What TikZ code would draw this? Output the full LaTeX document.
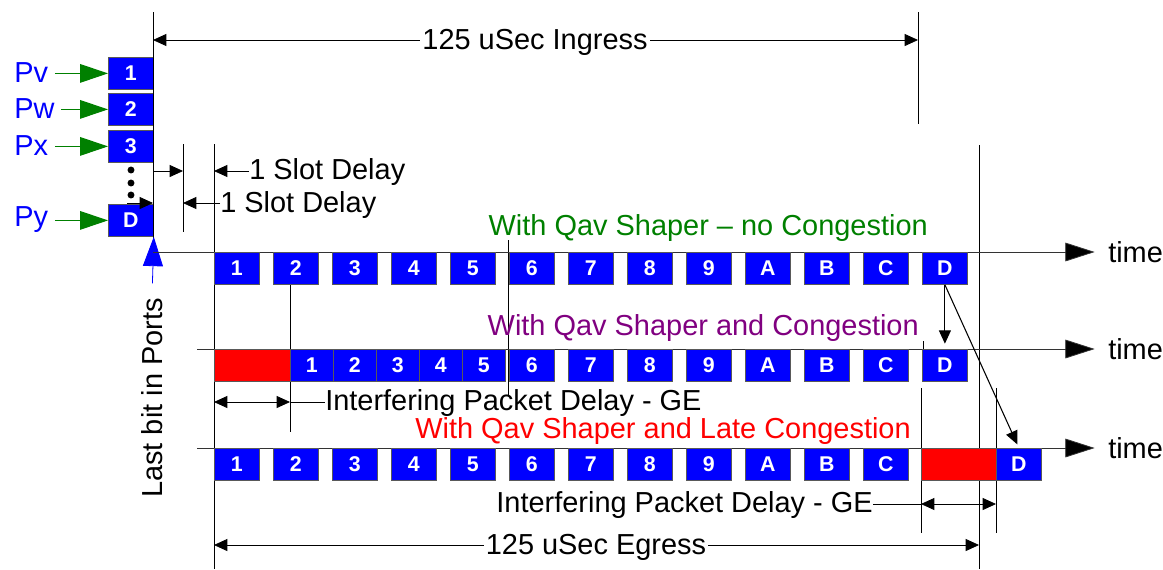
\documentclass[tikz,border=0pt]{standalone}
\usepackage{fontspec}
\setmainfont{Liberation Sans}
\usetikzlibrary{arrows.meta,positioning}
\definecolor{qgreen}{RGB}{0,128,0}
\definecolor{qpurple}{RGB}{128,0,128}
\tikzset{
  slot/.style={draw=black!65, line width=0.6pt, fill=blue, text=white,
    font=\fontsize{16}{16}\selectfont\bfseries,
    minimum width=33.75pt, minimum height=24pt, inner sep=0pt, anchor=north west},
  jam/.style={draw=black!65, line width=0.6pt, fill=red, minimum height=24pt,
    inner sep=0pt, anchor=north west},
  lbl/.style={font=\fontsize{21.7}{22}\selectfont, inner sep=0pt},
  guide/.style={draw=black, line width=0.6pt},
  dim/.style={guide, -{Triangle[length=10pt,width=9pt]}},
  dimboth/.style={guide, {Triangle[length=10pt,width=9pt]}-{Triangle[length=10pt,width=9pt]}},
  axis/.style={draw=black!80, line width=0.6pt, -{Triangle[length=22pt,width=14pt,fill=black]}},
  feed/.style={draw=qgreen, line width=0.8pt, -{Triangle[length=21pt,width=14pt]}},
}
\begin{document}
\begin{tikzpicture}[x=0.75pt,y=-0.75pt]
    \useasboundingbox (0,0) rectangle (1163,569);

    % input ports
    \foreach \lbl/\y/\p in {1/57/v, 2/93/w, 3/130/x, D/204/y} {
        \node[slot] (in\lbl) at (108,\y) {\lbl};
        \node[lbl, text=blue, anchor=west] (p\p) at (14,\y+16) {P\p};
        \draw[feed, shorten <=5pt] (p\p.east |- in\lbl) -- (in\lbl.west);
    }
    \foreach \y in {170,183,195}
        \fill (131,\y) circle (2.6pt);

    % guide lines
    \draw[guide] (153,12) -- (153,252);
    \draw[guide] (918,12) -- (918,124);
    \draw[guide] (183,144) -- (183,232);
    \draw[guide] (214,144) -- (214,569);
    \draw[guide] (979,145) -- (979,569);
    \draw[guide] (290,285) -- (290,432);
    \draw[guide] (508,240) -- (508,395);
    \draw[guide] (923,341) -- (923,382);
    \draw[guide] (921,388) -- (921,533);
    \draw[guide] (996,388) -- (996,533);

    % ingress
    \draw[dimboth] (153,40) -- (918,40);
    \node[lbl, fill=white, inner xsep=1.5pt, anchor=base] (ingress) at (535,49) {125 uSec Ingress};

    % slot delays
    \node[lbl, anchor=base west] (slotA) at (249,179) {1 Slot Delay};
    \node[lbl, anchor=base west] (slotB) at (220,212) {1 Slot Delay};
    \coordinate (sa) at (214,171);
    \coordinate (sb) at (183,203);
    \draw[dim] (153,171) -- (183,171);
    \draw[dim] (slotA.west |- sa) -- (sa);
    \draw[dim] (127,203) -- (153,203);
    \draw[dim] (slotB.west |- sb) -- (sb);

    % last bit in ports
    \node[lbl, rotate=90] (lastbit) at (152,398) {Last bit in Ports};
    \draw[blue, line width=0.6pt, -{Triangle[length=22pt,width=15pt]}, shorten <=11pt]
        (lastbit.east) -- (inD.south east);

    % row 1: no congestion
    \node[lbl, anchor=west] (time1) at (1108,252) {time};
    \coordinate (start1) at (153,252);
    \draw[axis, shorten >=10pt] (start1) -- (time1.west);
    \foreach \lbl [count=\i] in {1,2,3,4,5,6,7,8,9,A,B,C,D}
        \node[slot] (a\i) at ({214+59*(\i-1)},252) {\lbl};
    \node[lbl, text=qgreen, anchor=base east] (label1) at (928,235) {With Qav Shaper -- no Congestion};

    % row 2: congestion
    \node[lbl, anchor=west] (time2) at (1108,349) {time};
    \coordinate (start2) at (197,349);
    \draw[axis, shorten >=10pt] (start2) -- (time2.west);
    \node[jam, minimum width=57pt] (bjam) at (214,349) {};
    \foreach \lbl [count=\i] in {1,2,3,4,5}
        \node[slot, minimum width=32.25pt] (b\i) at ({290+43*(\i-1)},349) {\lbl};
    \foreach \lbl [count=\i from 6] in {6,7,8,9,A,B,C,D}
        \node[slot] (b\i) at ({214+59*(\i-1)},349) {\lbl};
    \node[lbl, text=qpurple, anchor=base east] (label2) at (919,335) {With Qav Shaper and Congestion};

    % row 3: late congestion
    \node[lbl, anchor=west] (time3) at (1108,448) {time};
    \coordinate (start3) at (197,448);
    \draw[axis, shorten >=10pt] (start3) -- (time3.west);
    \foreach \lbl [count=\i] in {1,2,3,4,5,6,7,8,9,A,B,C}
        \node[slot] (c\i) at ({214+59*(\i-1)},448) {\lbl};
    \node[jam, minimum width=56.25pt] (cjam) at (921,448) {};
    \node[slot] (c13) at (996,448) {D};
    \node[lbl, text=red, anchor=base east] (label3) at (911,438) {With Qav Shaper and Late Congestion};

    % D moves
    \draw[dim, line width=0.8pt, shorten >=4pt] (a13.south) -- (b13.north);
    \draw[dim, line width=0.8pt, shorten >=3pt] (a13.south) -- (c13.north);

    % interfering packet delays
    \node[lbl, anchor=base west] (intf2) at (325,410) {Interfering Packet Delay - GE};
    \coordinate (g2) at (290,402);
    \draw[dimboth] (214,402) -- (g2);
    \draw[guide] (g2) -- (intf2.west |- g2);
    \node[lbl, anchor=base east] (intf3) at (873,512) {Interfering Packet Delay - GE};
    \coordinate (g3) at (921,504);
    \draw[dimboth] (g3) -- (996,504);
    \draw[guide] (intf3.east |- g3) -- (g3);

    % egress
    \draw[dimboth] (214,545) -- (979,545);
    \node[lbl, fill=white, inner xsep=1.5pt, anchor=base] (egress) at (596,554) {125 uSec Egress};
\end{tikzpicture}
\end{document}
